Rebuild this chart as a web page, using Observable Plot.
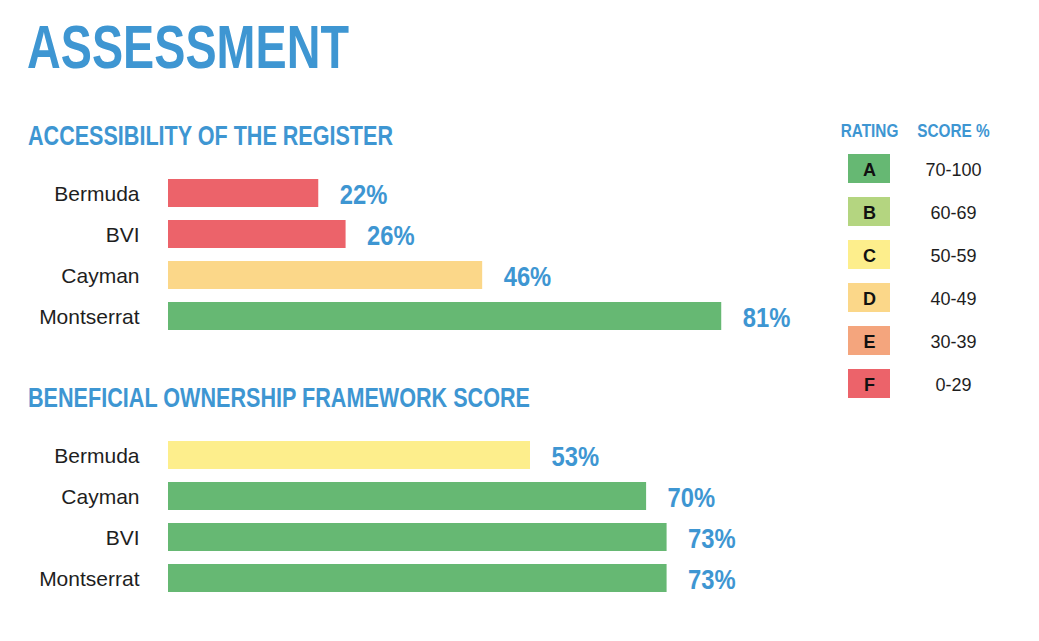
<!DOCTYPE html>
<html><head><meta charset="utf-8">
<script src="https://cdn.jsdelivr.net/npm/d3@7"></script>
<script src="https://cdn.jsdelivr.net/npm/@observablehq/plot@0.6"></script>
<style>
html,body{margin:0;padding:0;background:#fff;}
body{width:1039px;height:641px;position:relative;overflow:hidden;font-family:"Liberation Sans",Arial,sans-serif;}
.cond{position:absolute;white-space:nowrap;line-height:1;font-family:"Liberation Sans",Arial,sans-serif;font-weight:bold;color:#3e96d2;transform-origin:0 0;}
#title{left:27px;top:17px;font-size:61px;}
#h1{left:28px;top:121.5px;font-size:28px;}
#h2{left:28px;top:383.5px;font-size:28px;}
.plot{position:absolute;}
</style></head>
<body>
<div id="title" class="cond">ASSESSMENT</div>
<div id="h1" class="cond">ACCESSIBILITY OF THE REGISTER</div>
<div id="h2" class="cond">BENEFICIAL OWNERSHIP FRAMEWORK SCORE</div>
<div id="c1" class="plot" style="left:0;top:168px"></div>
<div id="c2" class="plot" style="left:0;top:430px"></div>
<div id="lg" class="plot" style="left:800px;top:110px"></div>
<script>
// ---- data ----
const registerCountries = ["Bermuda", "BVI", "Cayman", "Montserrat"];
const registerScores = [22, 26, 46, 81];
const frameworkCountries = ["Bermuda", "Cayman", "BVI", "Montserrat"];
const frameworkScores = [53, 70, 73, 73];
const ratingLetters = ["A", "B", "C", "D", "E", "F"];
const ratingRanges = ["70-100", "60-69", "50-59", "40-49", "30-39", "0-29"];
const ratingColors = ["#66b873", "#b4d580", "#fdee8c", "#fbd789", "#f4a57d", "#ec636a"];
const ratingThresholds = [30, 40, 50, 60, 70];
const legendHeaders = ["RATING", "SCORE %"];

const BLUE = "#3e96d2";
const REG = "'Liberation Sans',Arial,sans-serif";

function fit(id, w) {
  const el = document.getElementById(id);
  const r = el.getBoundingClientRect().width;
  el.style.transform = `scaleX(${w / r})`;
}
fit("title", 322);
fit("h1", 365);
fit("h2", 502);

// narrow the glyphs of selected svg texts (condensed look)
function condense(svg, selector, factor) {
  svg.querySelectorAll(selector).forEach(t => {
    const w = t.getComputedTextLength();
    t.setAttribute("textLength", (w * factor).toFixed(2));
    t.setAttribute("lengthAdjust", "spacingAndGlyphs");
  });
}

function barChart(countries, scores) {
  const data = countries.map((c, i) => ({country: c, score: scores[i]}));
  return Plot.plot({
    width: 880, height: 174,
    marginLeft: 168, marginRight: 29, marginTop: 10, marginBottom: 10,
    style: {fontFamily: REG, background: "transparent"},
    x: {domain: [0, 100], axis: null},
    y: {domain: countries, paddingInner: 0.305, paddingOuter: 0},
    color: {type: "threshold", domain: ratingThresholds, range: ratingColors.slice().reverse()},
    marks: [
      Plot.barX(data, {x: "score", y: "country", fill: "score"}),
      Plot.axisY({tickSize: 0, tickPadding: 29, fontSize: 21, fill: "#1e1e1e", dy: 1, label: null}),
      Plot.text(data, {x: "score", y: "country", text: d => d.score + "%", dx: 21, dy: 1.5,
        textAnchor: "start", fontSize: 27, fontWeight: "bold", fill: BLUE})
    ]
  });
}
for (const [id, c, s] of [["c1", registerCountries, registerScores], ["c2", frameworkCountries, frameworkScores]]) {
  const svg = barChart(c, s);
  document.getElementById(id).append(svg);
  condense(svg, 'g[aria-label="text"] text', 0.88);
}

const legend = ratingLetters.map((l, i) => ({letter: l, range: ratingRanges[i]}));
const lsvg = Plot.plot({
  width: 220, height: 298,
  marginLeft: 27, marginRight: 25, marginTop: 44, marginBottom: 10,
  style: {fontFamily: REG, background: "transparent"},
  x: {domain: legendHeaders, paddingInner: 0.5, paddingOuter: 0.25},
  y: {domain: ratingLetters, paddingInner: 0.326, paddingOuter: 0, axis: null},
  color: {domain: ratingLetters, range: ratingColors},
  marks: [
    Plot.cell(legend, {x: () => legendHeaders[0], y: "letter", fill: "letter", inset: 0}),
    Plot.text(legend, {x: () => legendHeaders[0], y: "letter", text: "letter", fontSize: 18, fontWeight: "bold", fill: "#111", dy: 1}),
    Plot.text(legend, {x: () => legendHeaders[1], y: "letter", text: "range", fontSize: 18, fill: "#1e1e1e", dy: 1}),
    Plot.axisX({anchor: "top", tickSize: 0, tickPadding: 18, fontSize: 18.5, fontWeight: "bold", fill: BLUE, label: null})
  ]
});
document.getElementById("lg").append(lsvg);
condense(lsvg, 'g[aria-label="x-axis tick label"] text', 0.83);
</script>
</body></html>
